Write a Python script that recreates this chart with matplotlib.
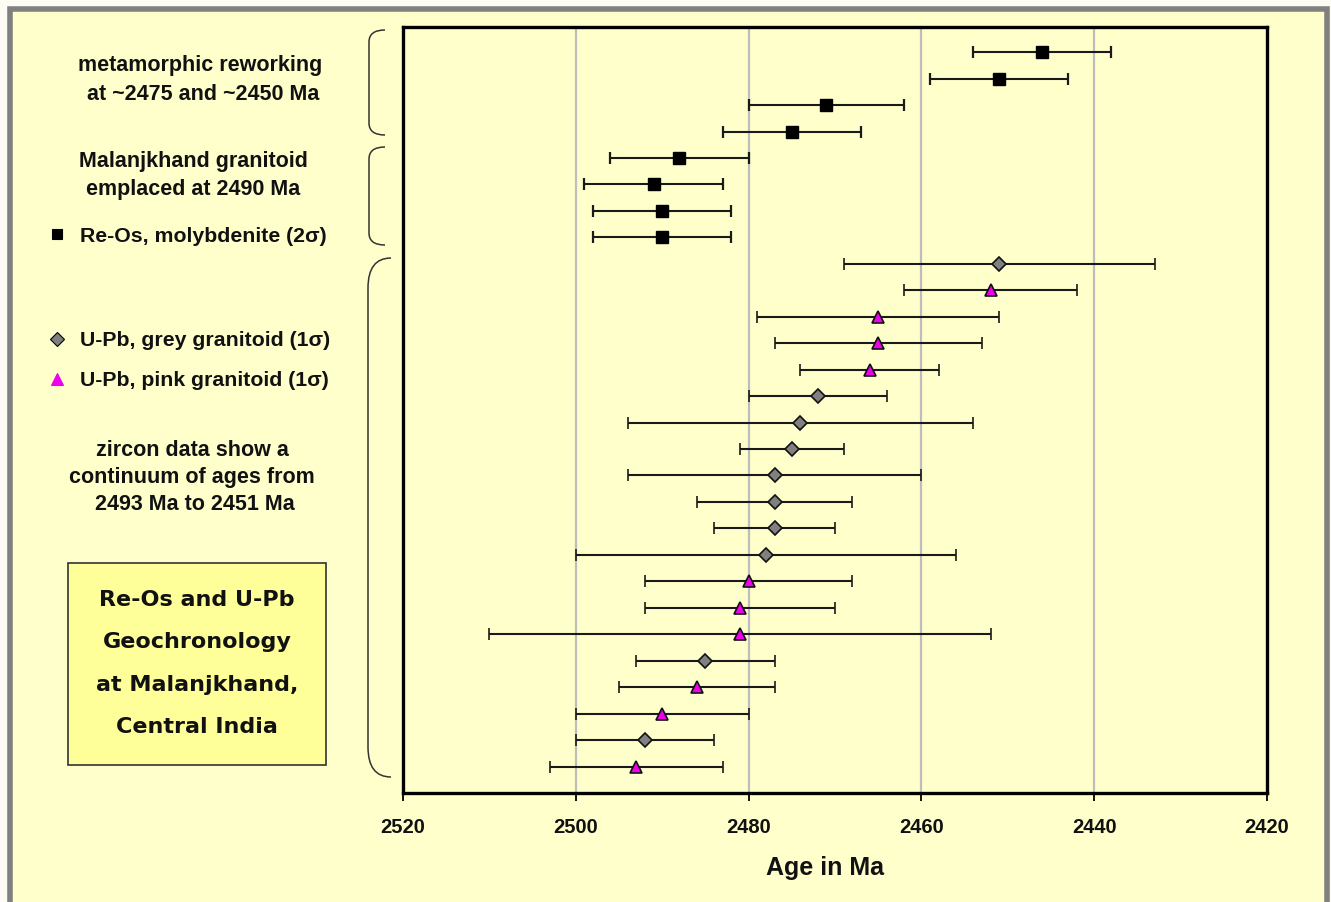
"""Re-Os and U-Pb geochronology at Malanjkhand: age plot with error bars."""

import matplotlib

matplotlib.use("Agg")
import matplotlib.pyplot as plt
import numpy as np
from matplotlib.patches import PathPatch, Rectangle
from matplotlib.path import Path

BG = "#FFFFCC"
BOX_FILL = "#FFFF99"
GREY = "#808080"
PINK = "#EE00EE"
FONT = ["Liberation Sans", "DejaVu Sans"]

# Re-Os molybdenite ages (2 sigma), top rows
reos_age = [2446, 2451, 2471, 2475, 2488, 2491, 2490, 2490]
reos_err = [8, 8, 9, 8, 8, 8, 8, 8]

# U-Pb zircon ages (1 sigma), below the Re-Os rows
upb_age = [2451, 2452, 2465, 2465, 2466, 2472, 2474, 2475, 2477, 2477,
           2477, 2478, 2480, 2481, 2481, 2485, 2486, 2490, 2492, 2493]
upb_err = [18, 10, 14, 12, 8, 8, 20, 6, 17, 9,
           7, 22, 12, 11, 29, 8, 9, 10, 8, 10]
upb_type = ["grey", "pink", "pink", "pink", "pink", "grey", "grey", "grey", "grey", "grey",
            "grey", "grey", "pink", "pink", "pink", "grey", "pink", "pink", "grey", "pink"]

x_ticks = [2520, 2500, 2480, 2460, 2440, 2420]
grid_ages = [2500, 2480, 2460, 2440]

left_notes = [
    ("metamorphic reworking", 200, 66),
    (" at ~2475 and ~2450 Ma", 200, 94),
    ("Malanjkhand granitoid", 193, 161),
    ("emplaced at 2490 Ma", 193, 189),
    ("zircon data show a", 192, 451),
    ("continuum of ages from", 192, 478),
    ("2493 Ma to 2451 Ma", 195, 505),
]
title_lines = ["Re-Os and U-Pb", "Geochronology", "at Malanjkhand,", "Central India"]


def brace(ax, y0, y1, x_in, x_out, r):
    verts = [(x_out, y0), (x_in, y0), (x_in, y0 + r), (x_in, y1 - r), (x_in, y1), (x_out, y1)]
    codes = [Path.MOVETO, Path.CURVE3, Path.CURVE3, Path.LINETO, Path.CURVE3, Path.CURVE3]
    ax.add_patch(PathPatch(Path(verts, codes), fill=False, lw=1.1, edgecolor="#333333"))


def draw_overlay(fig):
    ov = fig.add_axes([0, 0, 1, 1], zorder=-1)
    ov.set_xlim(0, 1331)
    ov.set_ylim(902, 0)
    ov.axis("off")

    ov.add_patch(Rectangle((9.5, 8.5), 1317, 900, facecolor=BG, edgecolor=GREY, lw=4))

    for text, x, y in left_notes:
        ov.text(x, y, text, ha="center", va="center", fontsize=15.5, fontweight="bold",
                family=FONT, color="#111111")

    legend_rows = [
        ("s", "black", 7, "Re-Os, molybdenite (2\u03c3)", 234),
        ("D", GREY, 7, "U-Pb, grey granitoid (1\u03c3)", 339),
        ("^", PINK, 8, "U-Pb, pink granitoid (1\u03c3)", 379),
    ]
    for marker, color, ms, label, y in legend_rows:
        edge = color if marker == "^" else "black"
        ov.plot([57], [y], marker=marker, ms=ms, color=color, mec=edge, mew=0.8, ls="none")
        ov.text(80, y + 2, label, ha="left", va="center", fontsize=15.3, fontweight="bold",
                family=FONT, color="#111111")

    ov.add_patch(Rectangle((68, 563), 258, 202, facecolor=BOX_FILL, edgecolor="#333333", lw=1.2))
    for i, line in enumerate(title_lines):
        ov.text(197, 600 + i * 42.3, line, ha="center", va="center", fontsize=16,
                fontweight="bold", family="DejaVu Sans", color="#111111")

    brace(ov, 30, 135, 369, 385, 12)
    brace(ov, 147, 245, 369, 385, 12)
    brace(ov, 258, 777, 368, 391, 30)


def main():
    fig = plt.figure(figsize=(13.31, 9.02), dpi=100)
    fig.patch.set_facecolor("#FCFCF4")

    ax = fig.add_axes([403 / 1331, 109 / 902, 864 / 1331, 766 / 902], zorder=1)
    ax.set_facecolor(BG)

    n_reos = len(reos_age)
    reos_rows = np.arange(1, n_reos + 1)
    upb_rows = np.arange(n_reos + 1, n_reos + len(upb_age) + 1)

    eb_style = dict(ls="none", ecolor="#1a1a1a", elinewidth=1.5, capsize=4.5, capthick=1.6)
    ax.errorbar(reos_age, reos_rows, xerr=reos_err, marker="s", ms=8.5, mfc="black",
                mec="black", zorder=3, **eb_style)

    upb_age_a = np.array(upb_age)
    upb_err_a = np.array(upb_err)
    is_grey = np.array([t == "grey" for t in upb_type])
    ax.errorbar(upb_age_a[is_grey], upb_rows[is_grey], xerr=upb_err_a[is_grey], marker="D",
                ms=7, mfc=GREY, mec="#111111", mew=1.2, zorder=3, **eb_style)
    ax.errorbar(upb_age_a[~is_grey], upb_rows[~is_grey], xerr=upb_err_a[~is_grey], marker="^",
                ms=8.5, mfc=PINK, mec="#111111", mew=1.2, zorder=3, **eb_style)

    for age in grid_ages:
        ax.axvline(age, color="#BDBDBD", lw=1.6, zorder=1)

    ax.set_xlim(x_ticks[0], x_ticks[-1])
    ax.set_ylim(n_reos + len(upb_age) + 1.0, 0.05)
    ax.set_xticks(x_ticks)
    ax.set_xticklabels([str(t) for t in x_ticks], fontsize=14.5, fontweight="bold",
                       family=FONT, color="#111111")
    ax.set_yticks([])
    ax.tick_params(axis="x", direction="out", length=6, width=1.3, pad=12)
    for spine in ax.spines.values():
        spine.set_linewidth(2.4)
        spine.set_color("black")
    ax.set_xlabel("Age in Ma", fontsize=18, fontweight="bold", family=FONT,
                  color="#111111", labelpad=17)
    ax.xaxis.set_label_coords(0.489, -0.082)

    draw_overlay(fig)

    fig.savefig("out.png", dpi=100, facecolor=fig.get_facecolor())
    plt.close(fig)


if __name__ == "__main__":
    main()
